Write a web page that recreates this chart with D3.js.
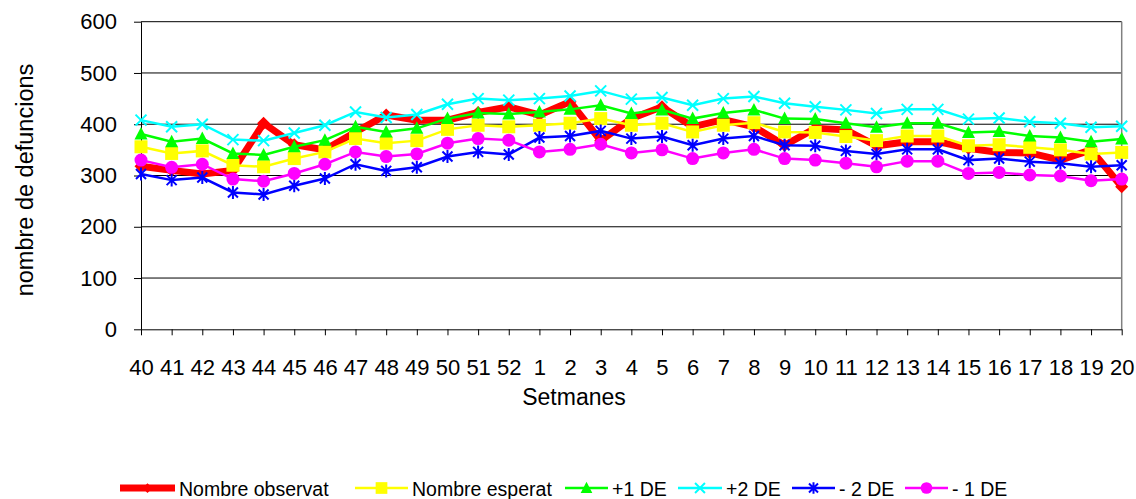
<!DOCTYPE html>
<html>
<head>
<meta charset="utf-8">
<script src="https://cdn.jsdelivr.net/npm/d3@7"></script>
<style>
  body { margin: 0; background: #fff; }
  text { font-family: Arial, "Liberation Sans", sans-serif; fill: #000; }
</style>
</head>
<body>
<div id="chart-div"></div>
<script>
// Constants for the chart
const WIDTH = 1136;
const HEIGHT = 499;
const MARGIN = { left: 141, top: 21.7, right: 14.3, bottom: 169.7 };
const CHART_WIDTH = WIDTH - MARGIN.left - MARGIN.right;
const CHART_HEIGHT = HEIGHT - MARGIN.top - MARGIN.bottom;

// data
const weeks = ["40", "41", "42", "43", "44", "45", "46", "47", "48", "49", "50", "51", "52",
  "1", "2", "3", "4", "5", "6", "7", "8", "9", "10", "11", "12", "13", "14", "15", "16", "17", "18", "19", "20"];
const observat = [318, 310, 303, 310, 402, 360, 350, 385, 418, 408, 408, 423, 434, 418, 444, 368, 411,
  434, 395, 409, 395, 359, 392, 389, 358, 366, 366, 353, 345, 344, 330, 350, 278];
const esperat = [356, 343, 348, 320, 317, 333, 346, 372, 363, 368, 390, 398, 395, 398, 402, 411, 398,
  402, 385, 398, 403, 385, 384, 376, 368, 377, 377, 358, 360, 355, 350, 342, 345];
const plus1 = [381, 366, 372, 343, 340, 356, 369, 395, 385, 392, 411, 422, 420, 424, 429, 437, 421,
  428, 411, 422, 428, 411, 410, 402, 394, 402, 402, 384, 386, 377, 374, 366, 371];
const plus2 = [408, 395, 400, 370, 368, 383, 398, 424, 413, 419, 439, 450, 447, 450, 455, 465, 449,
  452, 437, 450, 454, 441, 434, 428, 421, 429, 429, 410, 412, 405, 402, 394, 396];
const minus2 = [303, 291, 296, 267, 263, 280, 294, 322, 309, 316, 337, 346, 341, 374, 377, 387, 372,
  376, 359, 372, 377, 359, 358, 348, 342, 351, 351, 330, 333, 327, 324, 317, 320];
const minus1 = [330, 316, 322, 293, 289, 304, 322, 346, 337, 342, 363, 372, 369, 346, 351, 361, 344,
  350, 333, 344, 351, 333, 330, 324, 317, 328, 328, 304, 306, 301, 299, 290, 293];
const yTicks = [0, 100, 200, 300, 400, 500, 600];

// series in drawing order (same as the legend)
const series = [
  { name: "Nombre observat", values: observat, color: "#ff0000", width: 7, marker: "diamond" },
  { name: "Nombre esperat", values: esperat, color: "#ffff00", width: 2.5, marker: "square" },
  { name: "+1 DE", values: plus1, color: "#00ff00", width: 2.5, marker: "triangle" },
  { name: "+2 DE", values: plus2, color: "#00ffff", width: 2.5, marker: "x" },
  { name: "- 2 DE", values: minus2, color: "#0000ff", width: 2.5, marker: "star" },
  { name: "- 1 DE", values: minus1, color: "#ff00ff", width: 2.5, marker: "circle" },
];
const legendX = [120, 355, 565, 678, 792, 905];
const legendLineLen = [55, 53, 43, 44, 43, 43];

let svg;

setup();

function setup() {
  svg = d3
    .select("#chart-div")
    .append("svg")
    .attr("width", WIDTH)
    .attr("height", HEIGHT)
    .append("g")
    .attr("transform", `translate(${MARGIN.left}, ${MARGIN.top})`);

  drawChart();
  drawLegend();
}

// marker shapes, drawn around (0,0)
function markerPath(type, k = 1) {
  const p = d3.path();
  if (type === "square") {
    p.rect(-6.5 * k, -6.5 * k, 13 * k, 13 * k);
  } else if (type === "triangle") {
    p.moveTo(0, -7 * k); p.lineTo(6.5 * k, 5.5 * k); p.lineTo(-6.5 * k, 5.5 * k); p.closePath();
  } else if (type === "diamond") {
    p.moveTo(0, -6.5 * k); p.lineTo(6.5 * k, 0); p.lineTo(0, 6.5 * k); p.lineTo(-6.5 * k, 0); p.closePath();
  } else if (type === "circle") {
    p.arc(0, 0, 6.5 * k, 0, Math.PI * 2);
  } else if (type === "x") {
    p.moveTo(-5.5 * k, -5.5 * k); p.lineTo(5.5 * k, 5.5 * k);
    p.moveTo(5.5 * k, -5.5 * k); p.lineTo(-5.5 * k, 5.5 * k);
  } else if (type === "star") {
    p.moveTo(-5 * k, -5 * k); p.lineTo(5 * k, 5 * k); p.moveTo(5 * k, -5 * k); p.lineTo(-5 * k, 5 * k);
    p.moveTo(0, -6.5 * k); p.lineTo(0, 6.5 * k);
  }
  return p.toString();
}

function addMarker(sel, s, k) {
  const filled = !(s.marker === "x" || s.marker === "star");
  sel
    .append("path")
    .attr("d", markerPath(s.marker, k))
    .attr("fill", filled ? s.color : "none")
    .attr("stroke", s.color)
    .attr("stroke-width", filled ? 0 : 2);
}

function drawChart() {
  const xScale = d3.scalePoint().domain(weeks).range([0, CHART_WIDTH]).padding(0);
  const yScale = d3.scaleLinear().domain([0, 600]).range([CHART_HEIGHT, 0]);

  // gridlines
  svg
    .append("g")
    .attr("class", "grid")
    .selectAll("line")
    .data(yTicks.filter((d) => d > 0))
    .enter()
    .append("line")
    .attr("x1", 0)
    .attr("x2", CHART_WIDTH)
    .attr("y1", (d) => yScale(d))
    .attr("y2", (d) => yScale(d))
    .attr("stroke", "#000")
    .attr("stroke-width", 1);

  // right border
  svg
    .append("line")
    .attr("x1", CHART_WIDTH)
    .attr("x2", CHART_WIDTH)
    .attr("y1", 0)
    .attr("y2", CHART_HEIGHT)
    .attr("stroke", "#808080")
    .attr("stroke-width", 1.5);

  // y axis
  const yAxis = svg
    .append("g")
    .attr("class", "y-axis")
    .call(d3.axisLeft(yScale).tickValues(yTicks).tickSize(7).tickPadding(17).tickSizeOuter(0));
  yAxis.selectAll("line, path").attr("stroke", "#000");
  yAxis.selectAll("text").style("font-size", "22px");

  // x axis
  const xAxis = svg
    .append("g")
    .attr("class", "x-axis")
    .attr("transform", `translate(0, ${CHART_HEIGHT})`)
    .call(d3.axisBottom(xScale).tickSize(6).tickPadding(24).tickSizeOuter(0));
  xAxis.selectAll("line, path").attr("stroke", "#000");
  xAxis.selectAll("text").style("font-size", "22px");

  // axis titles
  svg
    .append("text")
    .attr("x", 574 - MARGIN.left)
    .attr("y", 405 - MARGIN.top)
    .attr("text-anchor", "middle")
    .style("font-size", "23px")
    .text("Setmanes");

  svg
    .append("text")
    .attr("transform", `translate(${33 - MARGIN.left}, ${180 - MARGIN.top}) rotate(-90)`)
    .attr("text-anchor", "middle")
    .style("font-size", "23.5px")
    .text("nombre de defuncions");

  const lineGenerator = d3
    .line()
    .x((d, i) => xScale(weeks[i]))
    .y((d) => yScale(d));

  // lines and markers
  series.forEach((s) => {
    const g = svg.append("g").attr("class", "series");
    g.append("path")
      .datum(s.values)
      .attr("d", lineGenerator)
      .attr("fill", "none")
      .attr("stroke", s.color)
      .attr("stroke-width", s.width)
      .attr("stroke-linejoin", "miter");

    const pts = g
      .selectAll("g.pt")
      .data(s.values)
      .enter()
      .append("g")
      .attr("class", "pt")
      .attr("transform", (d, i) => `translate(${xScale(weeks[i])}, ${yScale(d)})`);
    addMarker(pts, s, 1);
  });
}

function drawLegend() {
  const legend = d3
    .select("#chart-div svg")
    .append("g")
    .attr("class", "legend");

  series.forEach((s, i) => {
    const item = legend.append("g").attr("transform", `translate(${legendX[i]}, 488)`);
    item
      .append("line")
      .attr("x1", 0)
      .attr("x2", legendLineLen[i])
      .attr("stroke", s.color)
      .attr("stroke-width", s.width);
    const m = item.append("g").attr("transform", `translate(${legendLineLen[i] / 2}, 0)`);
    addMarker(m, s, s.marker === "diamond" ? 0.75 : 0.9);
    item
      .append("text")
      .attr("x", legendLineLen[i] + 4)
      .attr("y", 7.5)
      .style("font-size", "19.5px")
      .text(s.name);
  });
}
</script>
</body>
</html>
